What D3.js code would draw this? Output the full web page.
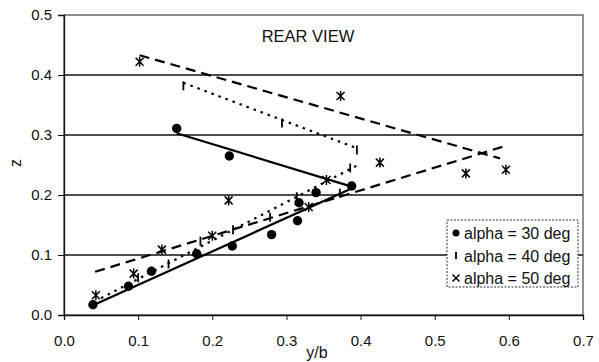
<!DOCTYPE html>
<html>
<head>
<meta charset="utf-8">
<script src="https://cdn.jsdelivr.net/npm/d3@7"></script>
<style>
  html, body { margin: 0; padding: 0; background: #fff; }
  svg { display: block; font-family: "Liberation Sans", Arial, sans-serif; }
</style>
</head>
<body>
<svg id="chart" width="599" height="362"></svg>
<script>
// Measured points (y/b, z) for each angle of attack
const alpha30 = [[0.039,0.017],[0.087,0.048],[0.118,0.073],[0.179,0.102],[0.227,0.115],[0.280,0.134],
                 [0.315,0.157],[0.317,0.187],[0.340,0.204],[0.388,0.215],[0.152,0.311],[0.223,0.265]];
const alpha40 = [[0.100,0.062],[0.141,0.085],[0.184,0.123],[0.228,0.142],[0.278,0.163],[0.314,0.197],
                 [0.372,0.203],[0.386,0.245],[0.395,0.275],[0.294,0.320],[0.161,0.382]];
const alpha50 = [[0.043,0.033],[0.094,0.069],[0.132,0.109],[0.200,0.132],[0.222,0.191],[0.330,0.180],
                 [0.354,0.225],[0.373,0.365],[0.426,0.254],[0.542,0.236],[0.596,0.242],[0.102,0.422]];

// Fitted trend lines (two branches per series)
const fit30 = [[[0.037,0.015],[0.390,0.212]], [[0.152,0.303],[0.388,0.214]]];
const fit40 = [[[0.050,0.028],[0.395,0.249]], [[0.161,0.387],[0.395,0.278]]];
const fit50 = [[[0.042,0.072],[0.596,0.282]], [[0.102,0.433],[0.588,0.261]]];

const xTicks = [0, 0.1, 0.2, 0.3, 0.4, 0.5, 0.6, 0.7];
const yTicks = [0, 0.1, 0.2, 0.3, 0.4, 0.5];
const legendLabels = ["alpha = 30 deg", "alpha = 40 deg", "alpha = 50 deg"];

const svg = d3.select("#chart");
const x = d3.scaleLinear().domain([0, 0.7]).range([64, 583]);
const y = d3.scaleLinear().domain([0, 0.5]).range([315, 15]);

// horizontal gridlines
svg.append("g").selectAll("line").data(yTicks.slice(1, -1)).join("line")
  .attr("x1", x(0)).attr("x2", x(0.7))
  .attr("y1", d => y(d)).attr("y2", d => y(d))
  .attr("stroke", "#111").attr("stroke-width", 1.3);

// plot frame
svg.append("rect").attr("x", x(0)).attr("y", y(0.5))
  .attr("width", x(0.7) - x(0)).attr("height", y(0) - y(0.5))
  .attr("fill", "none").attr("stroke", "#222").attr("stroke-width", 1);

// axes
const xAxis = svg.append("g").attr("transform", `translate(0,${y(0)})`)
  .call(d3.axisBottom(x).tickValues(xTicks).tickFormat(d3.format(".1f")).tickSize(5).tickPadding(15));
const yAxis = svg.append("g").attr("transform", `translate(${x(0)},0)`)
  .call(d3.axisLeft(y).tickValues(yTicks).tickFormat(d3.format(".1f")).tickSize(6).tickPadding(6));
[xAxis, yAxis].forEach(a => {
  a.select(".domain").attr("stroke", "#111").attr("stroke-width", 1.3);
  a.selectAll(".tick line").attr("stroke", "#111");
  a.selectAll(".tick text").attr("font-size", 15).attr("fill", "#111")
    .attr("font-family", "Liberation Sans, Arial, sans-serif");
});

// axis titles
svg.append("text").attr("x", 317).attr("y", 358).attr("text-anchor", "middle")
  .attr("font-size", 16).attr("fill", "#111").text("y/b");
svg.append("text").attr("transform", "translate(21,163) rotate(-90)").attr("text-anchor", "middle")
  .attr("font-size", 16).attr("fill", "#111").text("z");

// title
svg.append("text").attr("x", 308).attr("y", 42).attr("text-anchor", "middle")
  .attr("font-size", 16.5).attr("fill", "#111").text("REAR VIEW");

// trend lines
const line = d3.line().x(d => x(d[0])).y(d => y(d[1]));
const styles = [
  { fits: fit30, dash: null },
  { fits: fit40, dash: "2.5,5" },
  { fits: fit50, dash: "10,6" }
];
styles.forEach(s => {
  s.fits.forEach(seg => {
    svg.append("path").attr("d", line(seg)).attr("fill", "none")
      .attr("stroke", "#000").attr("stroke-width", 2.2)
      .attr("stroke-dasharray", s.dash);
  });
});

// markers
function circleMark(g, r) { g.append("circle").attr("r", r).attr("fill", "#000"); }
function barMark(g, h) {
  g.append("line").attr("x1", 0).attr("x2", 0).attr("y1", -h).attr("y2", h)
    .attr("stroke", "#000").attr("stroke-width", 1.8);
}
function starMark(g, s, withStem) {
  g.append("path").attr("d", `M${-s},${-s}L${s},${s}M${-s},${s}L${s},${-s}` + (withStem ? `M0,${-s - 1}L0,${s + 1}` : ""))
    .attr("stroke", "#000").attr("stroke-width", 1.5).attr("fill", "none");
}

svg.append("g").selectAll("g").data(alpha30).join("g")
  .attr("transform", d => `translate(${x(d[0])},${y(d[1])})`)
  .each(function () { circleMark(d3.select(this), 4.7); });
svg.append("g").selectAll("g").data(alpha40).join("g")
  .attr("transform", d => `translate(${x(d[0])},${y(d[1])})`)
  .each(function () { barMark(d3.select(this), 4.5); });
svg.append("g").selectAll("g").data(alpha50).join("g")
  .attr("transform", d => `translate(${x(d[0])},${y(d[1])})`)
  .each(function () { starMark(d3.select(this), 4, true); });

// legend
const lg = svg.append("g").attr("transform", "translate(447,220)");
lg.append("rect").attr("width", 131).attr("height", 67).attr("fill", "#fff")
  .attr("stroke", "#333").attr("stroke-width", 1).attr("stroke-dasharray", "2,1.5");
legendLabels.forEach((t, i) => {
  const row = lg.append("g").attr("transform", `translate(9,${13 + i * 22.5})`);
  if (i === 0) circleMark(row, 3.5);
  if (i === 1) barMark(row, 3.5);
  if (i === 2) starMark(row, 3.5, false);
  row.append("text").attr("x", 8).attr("y", 6).attr("font-size", 16).attr("fill", "#111").text(t);
});
</script>
</body>
</html>
